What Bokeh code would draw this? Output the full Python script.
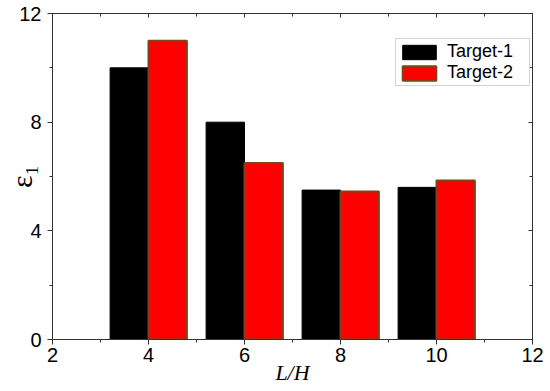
from bokeh.plotting import figure
from bokeh.models import ColumnDataSource, LinearAxis, FixedTicker, Range1d, Legend, LegendItem
from bokeh.transform import dodge
from bokeh.embed import file_html
from bokeh.resources import INLINE

# ---- data ----
lh = [4, 6, 8, 10]
target1 = [10.0, 8.0, 5.5, 5.6]
target2 = [11.0, 6.5, 5.45, 5.85]
series_names = ["Target-1", "Target-2"]
x_ticks = [2, 4, 6, 8, 10, 12]
y_ticks = [0, 4, 8, 12]
x_label = "L/H"
y_label = "ε₁"

src = ColumnDataSource(dict(lh=lh, t1=target1, t2=target2))

p = figure(width=550, height=391, output_backend="svg", toolbar_location=None,
           x_range=Range1d(2, 12), y_range=Range1d(0, 12),
           min_border_left=52, min_border_right=18, min_border_top=13,
           min_border_bottom=52, background_fill_color="white",
           border_fill_color="white")
p.xgrid.visible = False
p.ygrid.visible = False
p.outline_line_color = "#333333"

r1 = p.vbar(x=dodge("lh", -0.4, range=p.x_range), top="t1", width=0.8, bottom=0,
            fill_color="#000000", line_color="#000000", line_width=1, source=src)
r2 = p.vbar(x=dodge("lh", 0.4, range=p.x_range), top="t2", width=0.8, bottom=0,
            fill_color="#ff0000", line_color="#7b4515", line_width=2, source=src)

AX = "#333333"
FONT = "Liberation Sans"

def minors(ticks):
    return [t + (ticks[1] - ticks[0]) / 2 for t in ticks[:-1]]

def style_main(ax, ticks):
    ax.ticker = FixedTicker(ticks=ticks, minor_ticks=minors(ticks))
    ax.axis_line_color = AX
    ax.major_tick_line_color = AX
    ax.minor_tick_line_color = AX
    ax.major_tick_in = 0
    ax.major_tick_out = 5
    ax.minor_tick_in = 0
    ax.minor_tick_out = 3
    ax.major_label_text_font = FONT
    ax.major_label_text_font_size = "20px"
    ax.major_label_text_color = "#000000"

style_main(p.xaxis[0], x_ticks)
style_main(p.yaxis[0], y_ticks)
p.xaxis.major_label_standoff = 3
p.yaxis.major_label_standoff = 6
p.xaxis.axis_label = x_label
p.xaxis.axis_label_text_font = "Liberation Serif"
p.xaxis.axis_label_text_font_style = "italic"
p.xaxis.axis_label_text_font_size = "22px"
p.xaxis.axis_label_text_color = "#000000"
p.xaxis.axis_label_standoff = -5
p.yaxis.axis_label = y_label
p.yaxis.axis_label_text_font = "Liberation Serif"
p.yaxis.axis_label_text_font_style = "normal"
p.yaxis.axis_label_text_font_size = "30px"
p.yaxis.axis_label_text_color = "#000000"
p.yaxis.axis_label_standoff = -22

def mirror(ticks, loc):
    ax = LinearAxis()
    ax.ticker = FixedTicker(ticks=ticks, minor_ticks=minors(ticks))
    ax.axis_line_color = AX
    ax.major_tick_line_color = AX
    ax.minor_tick_line_color = AX
    ax.major_tick_in = 4
    ax.major_tick_out = 0
    ax.minor_tick_in = 3
    ax.minor_tick_out = 0
    ax.major_label_overrides = {t: "" for t in ticks}
    ax.major_label_standoff = 0
    p.add_layout(ax, loc)

mirror(x_ticks, "above")
mirror(y_ticks, "right")

legend = Legend(items=[LegendItem(label=series_names[0], renderers=[r1]),
                       LegendItem(label=series_names[1], renderers=[r2])],
                location=(343, 253), margin=0, padding=2, spacing=0,
                glyph_width=42, glyph_height=18, label_standoff=7,
                label_width=80, label_height=18,
                label_text_font=FONT, label_text_font_size="18px",
                label_text_color="#000000", border_line_color="#aaaaaa",
                border_line_width=1, background_fill_color="white",
                background_fill_alpha=1.0)
p.add_layout(legend)

open("out.html", "w").write(file_html(p, INLINE))
